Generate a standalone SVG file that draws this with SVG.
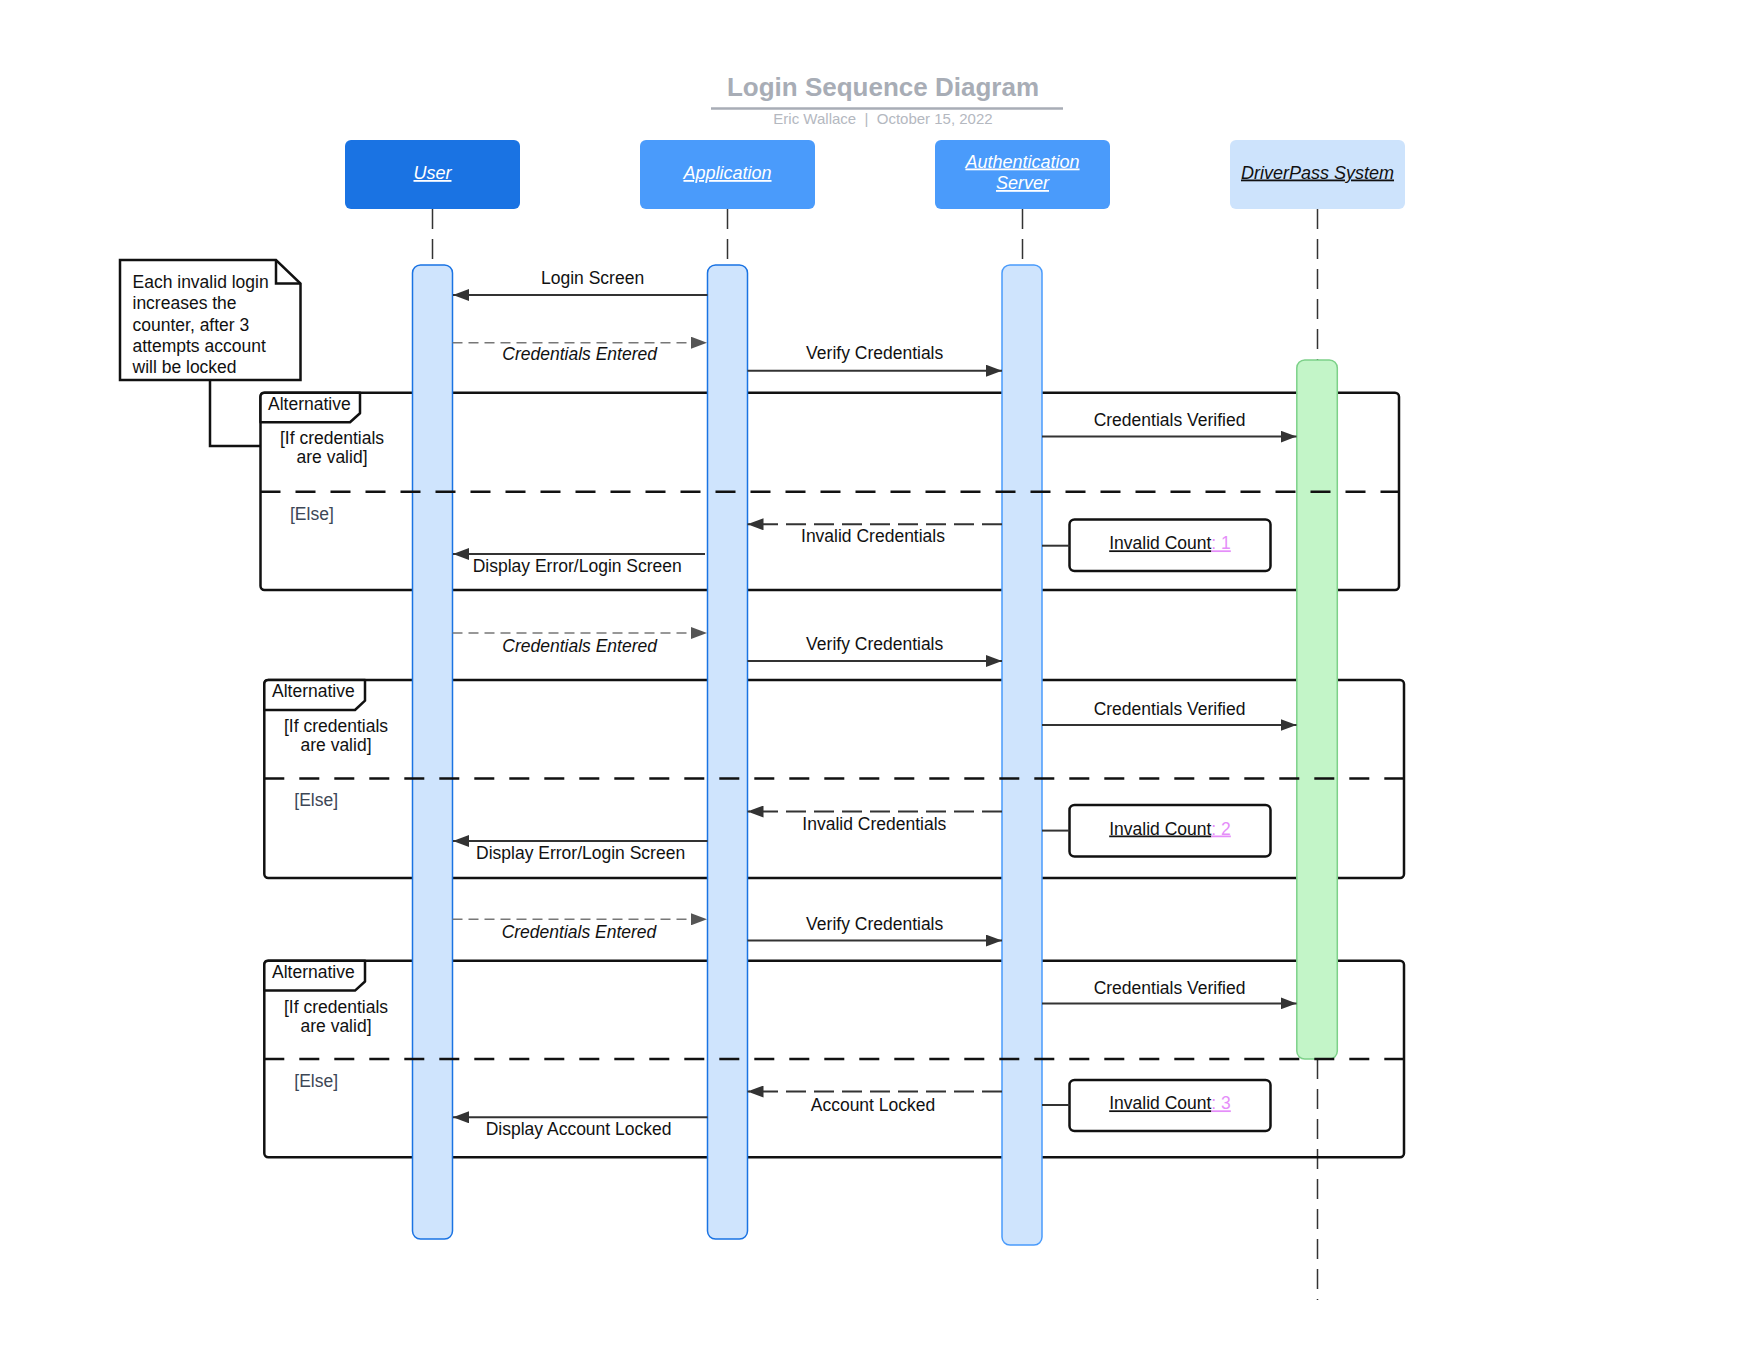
<svg xmlns="http://www.w3.org/2000/svg" width="1760" height="1360" viewBox="0 0 1760 1360">
  <defs>
    <style>
      .t { font-family: "Liberation Sans", Arial, sans-serif; font-size: 17.5px; fill: #111; }
      .it { font-style: italic; }
      .mid { text-anchor: middle; }
      .hdr { font-family: "Liberation Sans", Arial, sans-serif; font-size: 18px; font-style: italic; text-decoration: underline; text-anchor: middle; }
      .else { fill: #3d4756; }
      .life { stroke: #333; stroke-width: 1.5; stroke-dasharray: 20 10; fill: none; }
      .act { fill: #cfe4fd; stroke: #1a73e3; stroke-width: 1.5; }
      .act2 { fill: #cfe4fd; stroke: #4a9bfb; stroke-width: 1.5; }
      .actg { fill: #c3f5c8; stroke: #7dd189; stroke-width: 1.5; }
      .frame { fill: none; stroke: #111; stroke-width: 2.5; }
      .tab { fill: #fff; stroke: #111; stroke-width: 2.5; stroke-linejoin: round; }
      .divl { stroke: #111; stroke-width: 2.5; stroke-dasharray: 20 15; }
      .msg { stroke: #333; stroke-width: 2; fill: none; }
      .ret { stroke: #333; stroke-width: 2; stroke-dasharray: 20 8; fill: none; }
      .inp { stroke: #777; stroke-width: 1.5; stroke-dasharray: 10 6; fill: none; }
      .box { fill: #fff; stroke: #111; stroke-width: 2.5; }
      .pink { fill: #e58ef9; }
    </style>
    <marker id="ah" viewBox="0 0 16 12" refX="16" refY="6" markerWidth="16" markerHeight="12" markerUnits="userSpaceOnUse" orient="auto">
      <path d="M0,0 L16,6 L0,12 z" fill="#333"/>
    </marker>
    <marker id="ahg" viewBox="0 0 16 12" refX="16" refY="6" markerWidth="16" markerHeight="12" markerUnits="userSpaceOnUse" orient="auto">
      <path d="M0,0 L16,6 L0,12 z" fill="#555"/>
    </marker>
  </defs>

  <rect width="1760" height="1360" fill="#fff"/>

  <!-- title block -->
  <g id="title">
    <text x="883" y="95.5" text-anchor="middle" font-family="Liberation Sans, Arial, sans-serif" font-size="26" font-weight="bold" fill="#a8adb6">Login Sequence Diagram</text>
    <line x1="711" y1="108.5" x2="1063" y2="108.5" stroke="#a8adb6" stroke-width="2.5"/>
    <text x="883" y="124" text-anchor="middle" font-family="Liberation Sans, Arial, sans-serif" font-size="15" fill="#b4b8bf">Eric Wallace&#160;&#160;|&#160;&#160;October 15, 2022</text>
  </g>

  <!-- lifelines -->
  <g id="lifelines">
    <line class="life" x1="432.5" y1="209" x2="432.5" y2="265"/>
    <line class="life" x1="727.5" y1="209" x2="727.5" y2="265"/>
    <line class="life" x1="1022.5" y1="209" x2="1022.5" y2="265"/>
    <line class="life" x1="1317.5" y1="209" x2="1317.5" y2="360"/>
    <line class="life" x1="1317.5" y1="1059" x2="1317.5" y2="1300"/>
  </g>

  <!-- participant headers -->
  <g id="user">
    <rect x="345" y="140" width="175" height="69" rx="6" fill="#1a73e3"/>
    <text class="hdr" x="432.5" y="179" fill="#fff">User</text>
  </g>
  <g id="application">
    <rect x="640" y="140" width="175" height="69" rx="6" fill="#4a9bfb"/>
    <text class="hdr" x="727.5" y="179" fill="#fff">Application</text>
  </g>
  <g id="auth-server">
    <rect x="935" y="140" width="175" height="69" rx="6" fill="#4a9bfb"/>
    <text class="hdr" x="1022.5" y="167.5" fill="#fff">Authentication</text>
    <text class="hdr" x="1022.5" y="189" fill="#fff">Server</text>
  </g>
  <g id="driverpass">
    <rect x="1230" y="140" width="175" height="69" rx="6" fill="#cde3fc"/>
    <text class="hdr" x="1317.5" y="178.5" fill="#111">DriverPass System</text>
  </g>

  <!-- note -->
  <g id="note">
    <path d="M120,260 H276 L300.5,283.5 V380 H120 Z" fill="#fff" stroke="#111" stroke-width="2.5" stroke-linejoin="miter"/>
    <path d="M276,260 V283.5 H300.5" fill="none" stroke="#111" stroke-width="2.5"/>
    <text class="t" x="132.5" y="288">Each invalid login</text>
    <text class="t" x="132.5" y="309.3">increases the</text>
    <text class="t" x="132.5" y="330.7">counter, after 3</text>
    <text class="t" x="132.5" y="352">attempts account</text>
    <text class="t" x="132.5" y="373.3">will be locked</text>
  </g>

  <!-- combined fragments (outer borders) -->
  <g id="alt-1">
    <rect class="frame" x="260.5" y="392.7" width="1138.5" height="197.3" rx="4"/>
    <path class="tab" d="M260.5,422.3 H350 L360,413.3 V392.7 H264.5 Q260.5,392.7 260.5,396.7 Z"/>
    <text class="t" x="268" y="410">Alternative</text>
    <text class="t mid" x="332" y="444">[If credentials</text>
    <text class="t mid" x="332" y="463.3">are valid]</text>
    <text class="t else" x="290" y="520">[Else]</text>
  </g>
  <g id="alt-2">
    <rect class="frame" x="264.3" y="680" width="1139.7" height="198" rx="4"/>
    <path class="tab" d="M264.3,710 H355 L365,700.7 V680 H268.3 Q264.3,680 264.3,684 Z"/>
    <text class="t" x="272" y="697.3">Alternative</text>
    <text class="t mid" x="336" y="731.7">[If credentials</text>
    <text class="t mid" x="336" y="751">are valid]</text>
    <text class="t else" x="294.3" y="806">[Else]</text>
  </g>
  <g id="alt-3">
    <rect class="frame" x="264.3" y="960.8" width="1139.7" height="196.5" rx="4"/>
    <path class="tab" d="M264.3,990.6 H355 L365,981.5 V960.8 H268.3 Q264.3,960.8 264.3,964.8 Z"/>
    <text class="t" x="272" y="978.3">Alternative</text>
    <text class="t mid" x="336" y="1012.5">[If credentials</text>
    <text class="t mid" x="336" y="1031.7">are valid]</text>
    <text class="t else" x="294.3" y="1086.7">[Else]</text>
  </g>

  <!-- activation bars -->
  <g id="activations">
    <rect class="act" x="412.5" y="265" width="40" height="974" rx="8"/>
    <rect class="act" x="707.5" y="265" width="40" height="974" rx="8"/>
    <rect class="act2" x="1002" y="265" width="40" height="980" rx="8"/>
    <rect class="actg" x="1296.8" y="360" width="40.5" height="699" rx="8"/>
  </g>

  <!-- counter boxes -->
  <g id="count-1">
    <rect class="box" x="1069.5" y="519.5" width="201" height="51.5" rx="5"/>
    <text class="t mid" x="1170" y="549.3"><tspan text-decoration="underline">Invalid Count</tspan><tspan class="pink" text-decoration="underline">: 1</tspan></text>
  </g>
  <g id="count-2">
    <rect class="box" x="1069.5" y="805" width="201" height="51.5" rx="5"/>
    <text class="t mid" x="1170" y="834.5"><tspan text-decoration="underline">Invalid Count</tspan><tspan class="pink" text-decoration="underline">: 2</tspan></text>
  </g>
  <g id="count-3">
    <rect class="box" x="1069.5" y="1080" width="201" height="51" rx="5"/>
    <text class="t mid" x="1170" y="1109.3"><tspan text-decoration="underline">Invalid Count</tspan><tspan class="pink" text-decoration="underline">: 3</tspan></text>
  </g>

  <!-- connectors -->
  <g id="connectors">
    <!-- note link -->
    <polyline points="210,380 210,446 260.5,446" fill="none" stroke="#111" stroke-width="2.5"/>

    <!-- operand dividers -->
    <line class="divl" x1="260.5" y1="491.7" x2="1399" y2="491.7"/>
    <line class="divl" x1="264.3" y1="778.5" x2="1404" y2="778.5"/>
    <line class="divl" x1="264.3" y1="1059" x2="1404" y2="1059"/>

    <!-- attempt 1 -->
    <line class="msg" x1="707.5" y1="295" x2="453" y2="295" marker-end="url(#ah)"/>
    <text class="t mid" x="592.6" y="284">Login Screen</text>
    <line class="inp" x1="452.5" y1="342.7" x2="707" y2="342.7" marker-end="url(#ahg)"/>
    <text class="t it mid" x="579.6" y="360">Credentials Entered</text>
    <line class="msg" x1="747.5" y1="370.7" x2="1002" y2="370.7" marker-end="url(#ah)"/>
    <text class="t mid" x="874.7" y="359">Verify Credentials</text>
    <line class="msg" x1="1042" y1="436.6" x2="1296.5" y2="436.6" marker-end="url(#ah)"/>
    <text class="t mid" x="1169.5" y="426">Credentials Verified</text>
    <line class="ret" x1="1002" y1="524.3" x2="747.5" y2="524.3" marker-end="url(#ah)"/>
    <text class="t mid" x="873" y="541.7">Invalid Credentials</text>
    <line class="msg" x1="1042" y1="545.7" x2="1069.5" y2="545.7"/>
    <line class="msg" x1="705" y1="554" x2="453" y2="554" marker-end="url(#ah)"/>
    <text class="t" x="472.7" y="571.7">Display Error/Login Screen</text>

    <!-- attempt 2 -->
    <line class="inp" x1="452.5" y1="633" x2="707" y2="633" marker-end="url(#ahg)"/>
    <text class="t it mid" x="579.6" y="651.5">Credentials Entered</text>
    <line class="msg" x1="747.5" y1="661" x2="1002" y2="661" marker-end="url(#ah)"/>
    <text class="t mid" x="874.7" y="649.5">Verify Credentials</text>
    <line class="msg" x1="1042" y1="725" x2="1296.5" y2="725" marker-end="url(#ah)"/>
    <text class="t mid" x="1169.5" y="714.5">Credentials Verified</text>
    <line class="ret" x1="1002" y1="811.5" x2="747.5" y2="811.5" marker-end="url(#ah)"/>
    <text class="t mid" x="874.3" y="830">Invalid Credentials</text>
    <line class="msg" x1="1042" y1="830.6" x2="1069.5" y2="830.6"/>
    <line class="msg" x1="707.5" y1="841" x2="453" y2="841" marker-end="url(#ah)"/>
    <text class="t" x="476" y="859">Display Error/Login Screen</text>

    <!-- attempt 3 -->
    <line class="inp" x1="452.5" y1="919.3" x2="707" y2="919.3" marker-end="url(#ahg)"/>
    <text class="t it mid" x="579" y="938">Credentials Entered</text>
    <line class="msg" x1="747.5" y1="940.6" x2="1002" y2="940.6" marker-end="url(#ah)"/>
    <text class="t mid" x="874.7" y="930">Verify Credentials</text>
    <line class="msg" x1="1042" y1="1003.4" x2="1296.5" y2="1003.4" marker-end="url(#ah)"/>
    <text class="t mid" x="1169.5" y="994">Credentials Verified</text>
    <line class="ret" x1="1002" y1="1091.5" x2="747.5" y2="1091.5" marker-end="url(#ah)"/>
    <text class="t mid" x="873" y="1110.5">Account Locked</text>
    <line class="msg" x1="1042" y1="1105" x2="1069.5" y2="1105"/>
    <line class="msg" x1="707.5" y1="1117.3" x2="453" y2="1117.3" marker-end="url(#ah)"/>
    <text class="t" x="485.7" y="1135">Display Account Locked</text>
  </g>
</svg>
